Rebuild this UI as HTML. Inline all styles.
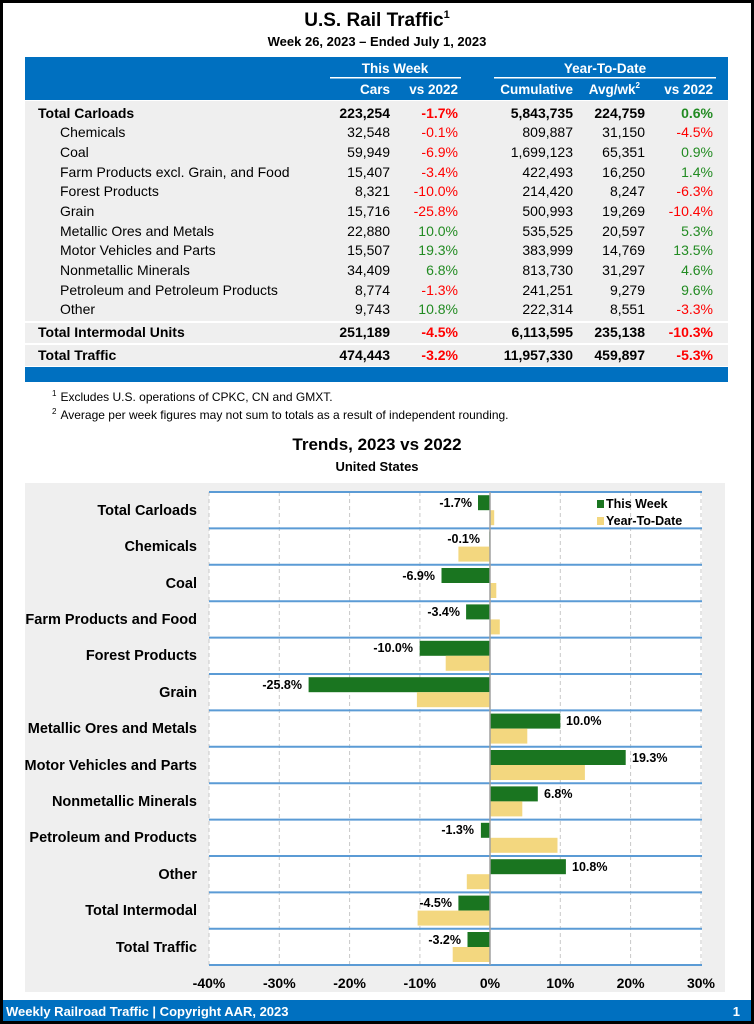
<!DOCTYPE html>
<html><head><meta charset="utf-8"><style>
html,body{margin:0;padding:0;background:#fff}
svg{display:block}
text{font-family:"Liberation Sans Narrow","Liberation Sans",Arial,sans-serif}
</style></head><body>
<svg width="754" height="1024" viewBox="0 0 754 1024" xmlns="http://www.w3.org/2000/svg">
<rect x="1.5" y="1.5" width="751" height="1021" fill="#fff" stroke="#000" stroke-width="3"/>
<text x="377" y="26" font-size="19" font-weight="bold" text-anchor="middle">U.S. Rail Traffic<tspan font-size="11" dy="-8">1</tspan></text>
<text x="377" y="46" font-size="13" font-weight="bold" text-anchor="middle">Week 26, 2023 – Ended July 1, 2023</text>
<rect x="25" y="57" width="703" height="43" fill="#0070c0"/>
<g fill="#fff" font-weight="bold" font-size="13.5">
<text x="395" y="73" text-anchor="middle">This Week</text>
<text x="605" y="73" text-anchor="middle">Year-To-Date</text>
<text x="390" y="94" text-anchor="end">Cars</text>
<text x="458" y="94" text-anchor="end">vs 2022</text>
<text x="573" y="94" text-anchor="end">Cumulative</text>
<text x="640" y="94" text-anchor="end">Avg/wk<tspan font-size="8" dy="-6">2</tspan></text>
<text x="713" y="94" text-anchor="end">vs 2022</text>
</g>
<rect x="330" y="77" width="131" height="1.5" fill="#fff"/>
<rect x="494" y="77" width="222" height="1.5" fill="#fff"/>
<rect x="25" y="101" width="703" height="265" fill="#efefef"/>
<rect x="25" y="321" width="703" height="2" fill="#fff"/>
<rect x="25" y="343" width="703" height="2" fill="#fff"/>
<rect x="25" y="367" width="703" height="15" fill="#0070c0"/>
<g font-size="14">
<g font-weight="bold"><text x="38" y="118">Total Carloads</text><text x="390" y="118" text-anchor="end">223,254</text><text x="458" y="118" text-anchor="end" fill="#f00">-1.7%</text><text x="573" y="118" text-anchor="end">5,843,735</text><text x="645" y="118" text-anchor="end">224,759</text><text x="713" y="118" text-anchor="end" fill="#228b22">0.6%</text></g>
<text x="60" y="137">Chemicals</text><text x="390" y="137" text-anchor="end">32,548</text><text x="458" y="137" text-anchor="end" fill="#f00">-0.1%</text><text x="573" y="137" text-anchor="end">809,887</text><text x="645" y="137" text-anchor="end">31,150</text><text x="713" y="137" text-anchor="end" fill="#f00">-4.5%</text>
<text x="60" y="157">Coal</text><text x="390" y="157" text-anchor="end">59,949</text><text x="458" y="157" text-anchor="end" fill="#f00">-6.9%</text><text x="573" y="157" text-anchor="end">1,699,123</text><text x="645" y="157" text-anchor="end">65,351</text><text x="713" y="157" text-anchor="end" fill="#228b22">0.9%</text>
<text x="60" y="177">Farm Products excl. Grain, and Food</text><text x="390" y="177" text-anchor="end">15,407</text><text x="458" y="177" text-anchor="end" fill="#f00">-3.4%</text><text x="573" y="177" text-anchor="end">422,493</text><text x="645" y="177" text-anchor="end">16,250</text><text x="713" y="177" text-anchor="end" fill="#228b22">1.4%</text>
<text x="60" y="196">Forest Products</text><text x="390" y="196" text-anchor="end">8,321</text><text x="458" y="196" text-anchor="end" fill="#f00">-10.0%</text><text x="573" y="196" text-anchor="end">214,420</text><text x="645" y="196" text-anchor="end">8,247</text><text x="713" y="196" text-anchor="end" fill="#f00">-6.3%</text>
<text x="60" y="216">Grain</text><text x="390" y="216" text-anchor="end">15,716</text><text x="458" y="216" text-anchor="end" fill="#f00">-25.8%</text><text x="573" y="216" text-anchor="end">500,993</text><text x="645" y="216" text-anchor="end">19,269</text><text x="713" y="216" text-anchor="end" fill="#f00">-10.4%</text>
<text x="60" y="236">Metallic Ores and Metals</text><text x="390" y="236" text-anchor="end">22,880</text><text x="458" y="236" text-anchor="end" fill="#228b22">10.0%</text><text x="573" y="236" text-anchor="end">535,525</text><text x="645" y="236" text-anchor="end">20,597</text><text x="713" y="236" text-anchor="end" fill="#228b22">5.3%</text>
<text x="60" y="255">Motor Vehicles and Parts</text><text x="390" y="255" text-anchor="end">15,507</text><text x="458" y="255" text-anchor="end" fill="#228b22">19.3%</text><text x="573" y="255" text-anchor="end">383,999</text><text x="645" y="255" text-anchor="end">14,769</text><text x="713" y="255" text-anchor="end" fill="#228b22">13.5%</text>
<text x="60" y="275">Nonmetallic Minerals</text><text x="390" y="275" text-anchor="end">34,409</text><text x="458" y="275" text-anchor="end" fill="#228b22">6.8%</text><text x="573" y="275" text-anchor="end">813,730</text><text x="645" y="275" text-anchor="end">31,297</text><text x="713" y="275" text-anchor="end" fill="#228b22">4.6%</text>
<text x="60" y="295">Petroleum and Petroleum Products</text><text x="390" y="295" text-anchor="end">8,774</text><text x="458" y="295" text-anchor="end" fill="#f00">-1.3%</text><text x="573" y="295" text-anchor="end">241,251</text><text x="645" y="295" text-anchor="end">9,279</text><text x="713" y="295" text-anchor="end" fill="#228b22">9.6%</text>
<text x="60" y="314">Other</text><text x="390" y="314" text-anchor="end">9,743</text><text x="458" y="314" text-anchor="end" fill="#228b22">10.8%</text><text x="573" y="314" text-anchor="end">222,314</text><text x="645" y="314" text-anchor="end">8,551</text><text x="713" y="314" text-anchor="end" fill="#f00">-3.3%</text>
<g font-weight="bold"><text x="38" y="337">Total Intermodal Units</text><text x="390" y="337" text-anchor="end">251,189</text><text x="458" y="337" text-anchor="end" fill="#f00">-4.5%</text><text x="573" y="337" text-anchor="end">6,113,595</text><text x="645" y="337" text-anchor="end">235,138</text><text x="713" y="337" text-anchor="end" fill="#f00">-10.3%</text></g>
<g font-weight="bold"><text x="38" y="360">Total Traffic</text><text x="390" y="360" text-anchor="end">474,443</text><text x="458" y="360" text-anchor="end" fill="#f00">-3.2%</text><text x="573" y="360" text-anchor="end">11,957,330</text><text x="645" y="360" text-anchor="end">459,897</text><text x="713" y="360" text-anchor="end" fill="#f00">-5.3%</text></g>
</g>
<g font-size="12"><text x="52" y="401"><tspan font-size="8" dy="-5">1</tspan><tspan dy="5" dx="4">Excludes U.S. operations of CPKC, CN and GMXT.</tspan></text>
<text x="52" y="419"><tspan font-size="8" dy="-5">2</tspan><tspan dy="5" dx="4">Average per week figures may not sum to totals as a result of independent rounding.</tspan></text></g>
<text x="377" y="450" font-size="17" font-weight="bold" text-anchor="middle">Trends, 2023 vs 2022</text>
<text x="377" y="471" font-size="13" font-weight="bold" text-anchor="middle">United States</text>
<rect x="25" y="483" width="700" height="509" fill="#efefef"/>
<rect x="209" y="492" width="493" height="473" fill="#fff"/>
<g stroke="#c8c8c8" stroke-dasharray="4,3" stroke-width="1">
<line x1="209" y1="492" x2="209" y2="965"/><line x1="279.3" y1="492" x2="279.3" y2="965"/><line x1="349.6" y1="492" x2="349.6" y2="965"/><line x1="419.9" y1="492" x2="419.9" y2="965"/><line x1="560.3" y1="492" x2="560.3" y2="965"/><line x1="630.6" y1="492" x2="630.6" y2="965"/><line x1="701" y1="492" x2="701" y2="965"/>
</g>
<g stroke="#5b9bd5" stroke-width="2">
<line x1="209" y1="492" x2="702" y2="492"/><line x1="209" y1="528.4" x2="702" y2="528.4"/><line x1="209" y1="564.8" x2="702" y2="564.8"/><line x1="209" y1="601.2" x2="702" y2="601.2"/><line x1="209" y1="637.6" x2="702" y2="637.6"/><line x1="209" y1="674" x2="702" y2="674"/><line x1="209" y1="710.4" x2="702" y2="710.4"/><line x1="209" y1="746.8" x2="702" y2="746.8"/><line x1="209" y1="783.2" x2="702" y2="783.2"/><line x1="209" y1="819.6" x2="702" y2="819.6"/><line x1="209" y1="856" x2="702" y2="856"/><line x1="209" y1="892.4" x2="702" y2="892.4"/><line x1="209" y1="928.8" x2="702" y2="928.8"/><line x1="209" y1="965" x2="702" y2="965"/>
</g>
<g fill="#1a7520">
<rect x="478" y="495.2" width="12" height="15"/>
<rect x="489.3" y="531.6" width="0.7" height="15"/>
<rect x="441.5" y="568" width="48.5" height="15"/>
<rect x="466.1" y="604.4" width="23.9" height="15"/>
<rect x="419.7" y="640.8" width="70.3" height="15"/>
<rect x="308.6" y="677.2" width="181.4" height="15"/>
<rect x="490" y="713.6" width="70.3" height="15"/>
<rect x="490" y="750" width="135.7" height="15"/>
<rect x="490" y="786.4" width="47.8" height="15"/>
<rect x="480.9" y="822.8" width="9.1" height="15"/>
<rect x="490" y="859.2" width="75.9" height="15"/>
<rect x="458.4" y="895.6" width="31.6" height="15"/>
<rect x="467.5" y="932" width="22.5" height="15"/>
</g>
<g fill="#f3d77f">
<rect x="490" y="510.2" width="4.2" height="15"/>
<rect x="458.4" y="546.6" width="31.6" height="15"/>
<rect x="490" y="583" width="6.3" height="15"/>
<rect x="490" y="619.4" width="9.8" height="15"/>
<rect x="445.7" y="655.8" width="44.3" height="15"/>
<rect x="416.9" y="692.2" width="73.1" height="15"/>
<rect x="490" y="728.6" width="37.3" height="15"/>
<rect x="490" y="765" width="94.9" height="15"/>
<rect x="490" y="801.4" width="32.3" height="15"/>
<rect x="490" y="837.8" width="67.5" height="15"/>
<rect x="466.8" y="874.2" width="23.2" height="15"/>
<rect x="417.6" y="910.6" width="72.4" height="15"/>
<rect x="452.7" y="947" width="37.3" height="15"/>
</g>
<line x1="490" y1="492" x2="490" y2="965" stroke="#a0a0a0" stroke-width="1.5"/>
<g font-size="12.5" font-weight="bold">
<text x="472" y="507" text-anchor="end">-1.7%</text>
<text x="480" y="543" text-anchor="end">-0.1%</text>
<text x="435" y="580" text-anchor="end">-6.9%</text>
<text x="460" y="616" text-anchor="end">-3.4%</text>
<text x="413" y="652" text-anchor="end">-10.0%</text>
<text x="302" y="689" text-anchor="end">-25.8%</text>
<text x="566" y="725">10.0%</text>
<text x="632" y="762">19.3%</text>
<text x="544" y="798">6.8%</text>
<text x="474" y="834" text-anchor="end">-1.3%</text>
<text x="572" y="871">10.8%</text>
<text x="452" y="907" text-anchor="end">-4.5%</text>
<text x="461" y="944" text-anchor="end">-3.2%</text>
</g>
<rect x="597" y="500" width="7" height="8" fill="#1a7520"/>
<text x="606" y="508" font-size="12.5" font-weight="bold">This Week</text>
<rect x="597" y="517" width="7" height="8" fill="#f3d77f"/>
<text x="606" y="525" font-size="12.5" font-weight="bold">Year-To-Date</text>
<g font-size="14.5" font-weight="bold" text-anchor="end">
<text x="197" y="515">Total Carloads</text>
<text x="197" y="551">Chemicals</text>
<text x="197" y="588">Coal</text>
<text x="197" y="624">Farm Products and Food</text>
<text x="197" y="660">Forest Products</text>
<text x="197" y="697">Grain</text>
<text x="197" y="733">Metallic Ores and Metals</text>
<text x="197" y="770">Motor Vehicles and Parts</text>
<text x="197" y="806">Nonmetallic Minerals</text>
<text x="197" y="842">Petroleum and Products</text>
<text x="197" y="879">Other</text>
<text x="197" y="915">Total Intermodal</text>
<text x="197" y="952">Total Traffic</text>
</g>
<g font-size="14" font-weight="bold" text-anchor="middle">
<text x="209" y="988">-40%</text><text x="279.3" y="988">-30%</text><text x="349.6" y="988">-20%</text><text x="419.9" y="988">-10%</text><text x="490" y="988">0%</text><text x="560.3" y="988">10%</text><text x="630.6" y="988">20%</text><text x="701" y="988">30%</text>
</g>
<rect x="3" y="1000" width="748" height="21" fill="#0070c0"/>
<text x="6" y="1016" font-size="13" font-weight="bold" fill="#fff">Weekly Railroad Traffic | Copyright AAR, 2023</text>
<text x="740" y="1016" font-size="13" font-weight="bold" fill="#fff" text-anchor="end">1</text>
</svg>
</body></html>
